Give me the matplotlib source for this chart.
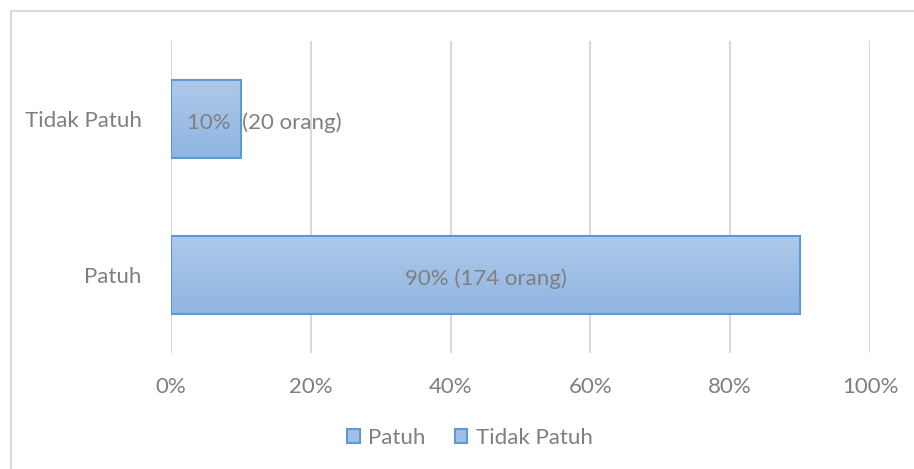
import numpy as np
import matplotlib
matplotlib.use("Agg")
import matplotlib.pyplot as plt
from matplotlib.patches import Patch
from matplotlib.lines import Line2D
from matplotlib.transforms import offset_copy

categories = ["Patuh", "Tidak Patuh"]
values = [90, 10]
labels = ["90% (174 orang)", "10%  (20 orang)"]
xticks = [0, 20, 40, 60, 80, 100]
xtick_labels = ["0%", "20%", "40%", "60%", "80%", "100%"]

plt.rcParams['font.family'] = ['Lato', 'DejaVu Sans']
FS = 16
TXT = '#7F7F7F'
EDGE = '#5B9BD5'
TOP = np.array([174, 200, 233]) / 255
BOT = np.array([143, 181, 226]) / 255

W, H = 914, 469
fig = plt.figure(figsize=(W / 100, H / 100), dpi=100)
ax = fig.add_axes([171 / W, 1 - 353 / H, (870 - 171) / W, (353 - 41) / H])

ypos = np.arange(len(categories))
bh = 0.5
bars = ax.barh(ypos, values, height=bh, facecolor='none', edgecolor=EDGE, linewidth=1.5, zorder=3)

grad = np.linspace(0, 1, 256).reshape(-1, 1, 1)
img = TOP * (1 - grad) + BOT * grad
for b in bars:
    x0, y0 = b.get_x(), b.get_y()
    w, h = b.get_width(), b.get_height()
    im = ax.imshow(img, extent=[x0, x0 + w, y0, y0 + h], origin='upper', aspect='auto', zorder=2,
                   interpolation='bilinear')
    im.set_clip_path(b)

ax.set_xlim(0, 100)
ax.set_ylim(-0.5, 1.5)
ax.set_xticks(xticks)
ax.set_xticklabels(xtick_labels)
ax.set_yticks(ypos)
ax.set_yticklabels(categories)
ax.tick_params(axis='both', length=0, labelsize=FS, colors=TXT)
ax.tick_params(axis='x', pad=17)
ax.tick_params(axis='y', pad=21)
ax.grid(axis='x', color='#D9D9D9', linewidth=1.5, zorder=0)
ax.set_axisbelow(True)
for s in ax.spines.values():
    s.set_visible(False)

# data labels (shifted slightly down to match the reference)
tr = offset_copy(ax.transData, fig=fig, x=0, y=-3, units='points')
ax.text(values[0] / 2, ypos[0], labels[0], ha='center', va='center', fontsize=FS, color=TXT, zorder=4,
        transform=tr)
ax.text(2.3, ypos[1], labels[1], ha='left', va='center', fontsize=FS, color=TXT, zorder=4, transform=tr)

handles = [Patch(facecolor=(TOP + BOT) / 2, edgecolor=EDGE, linewidth=1.5, label=c) for c in categories]
fig.legend(handles=handles, loc='center', bbox_to_anchor=(470 / W, 1 - 438 / H), ncol=2, frameon=False,
           fontsize=FS, labelcolor=TXT, handlelength=0.55, handleheight=0.55, handletextpad=0.4,
           columnspacing=1.3)

# outer chart border (only top and left visible)
fig.add_artist(Line2D([10.5 / W, 10.5 / W], [0, 1 - 11 / H], transform=fig.transFigure, color='#D9D9D9', linewidth=1.5))
fig.add_artist(Line2D([10.5 / W, 1], [1 - 11 / H, 1 - 11 / H], transform=fig.transFigure, color='#D9D9D9', linewidth=1.5))

fig.savefig('out.png', dpi=100)
